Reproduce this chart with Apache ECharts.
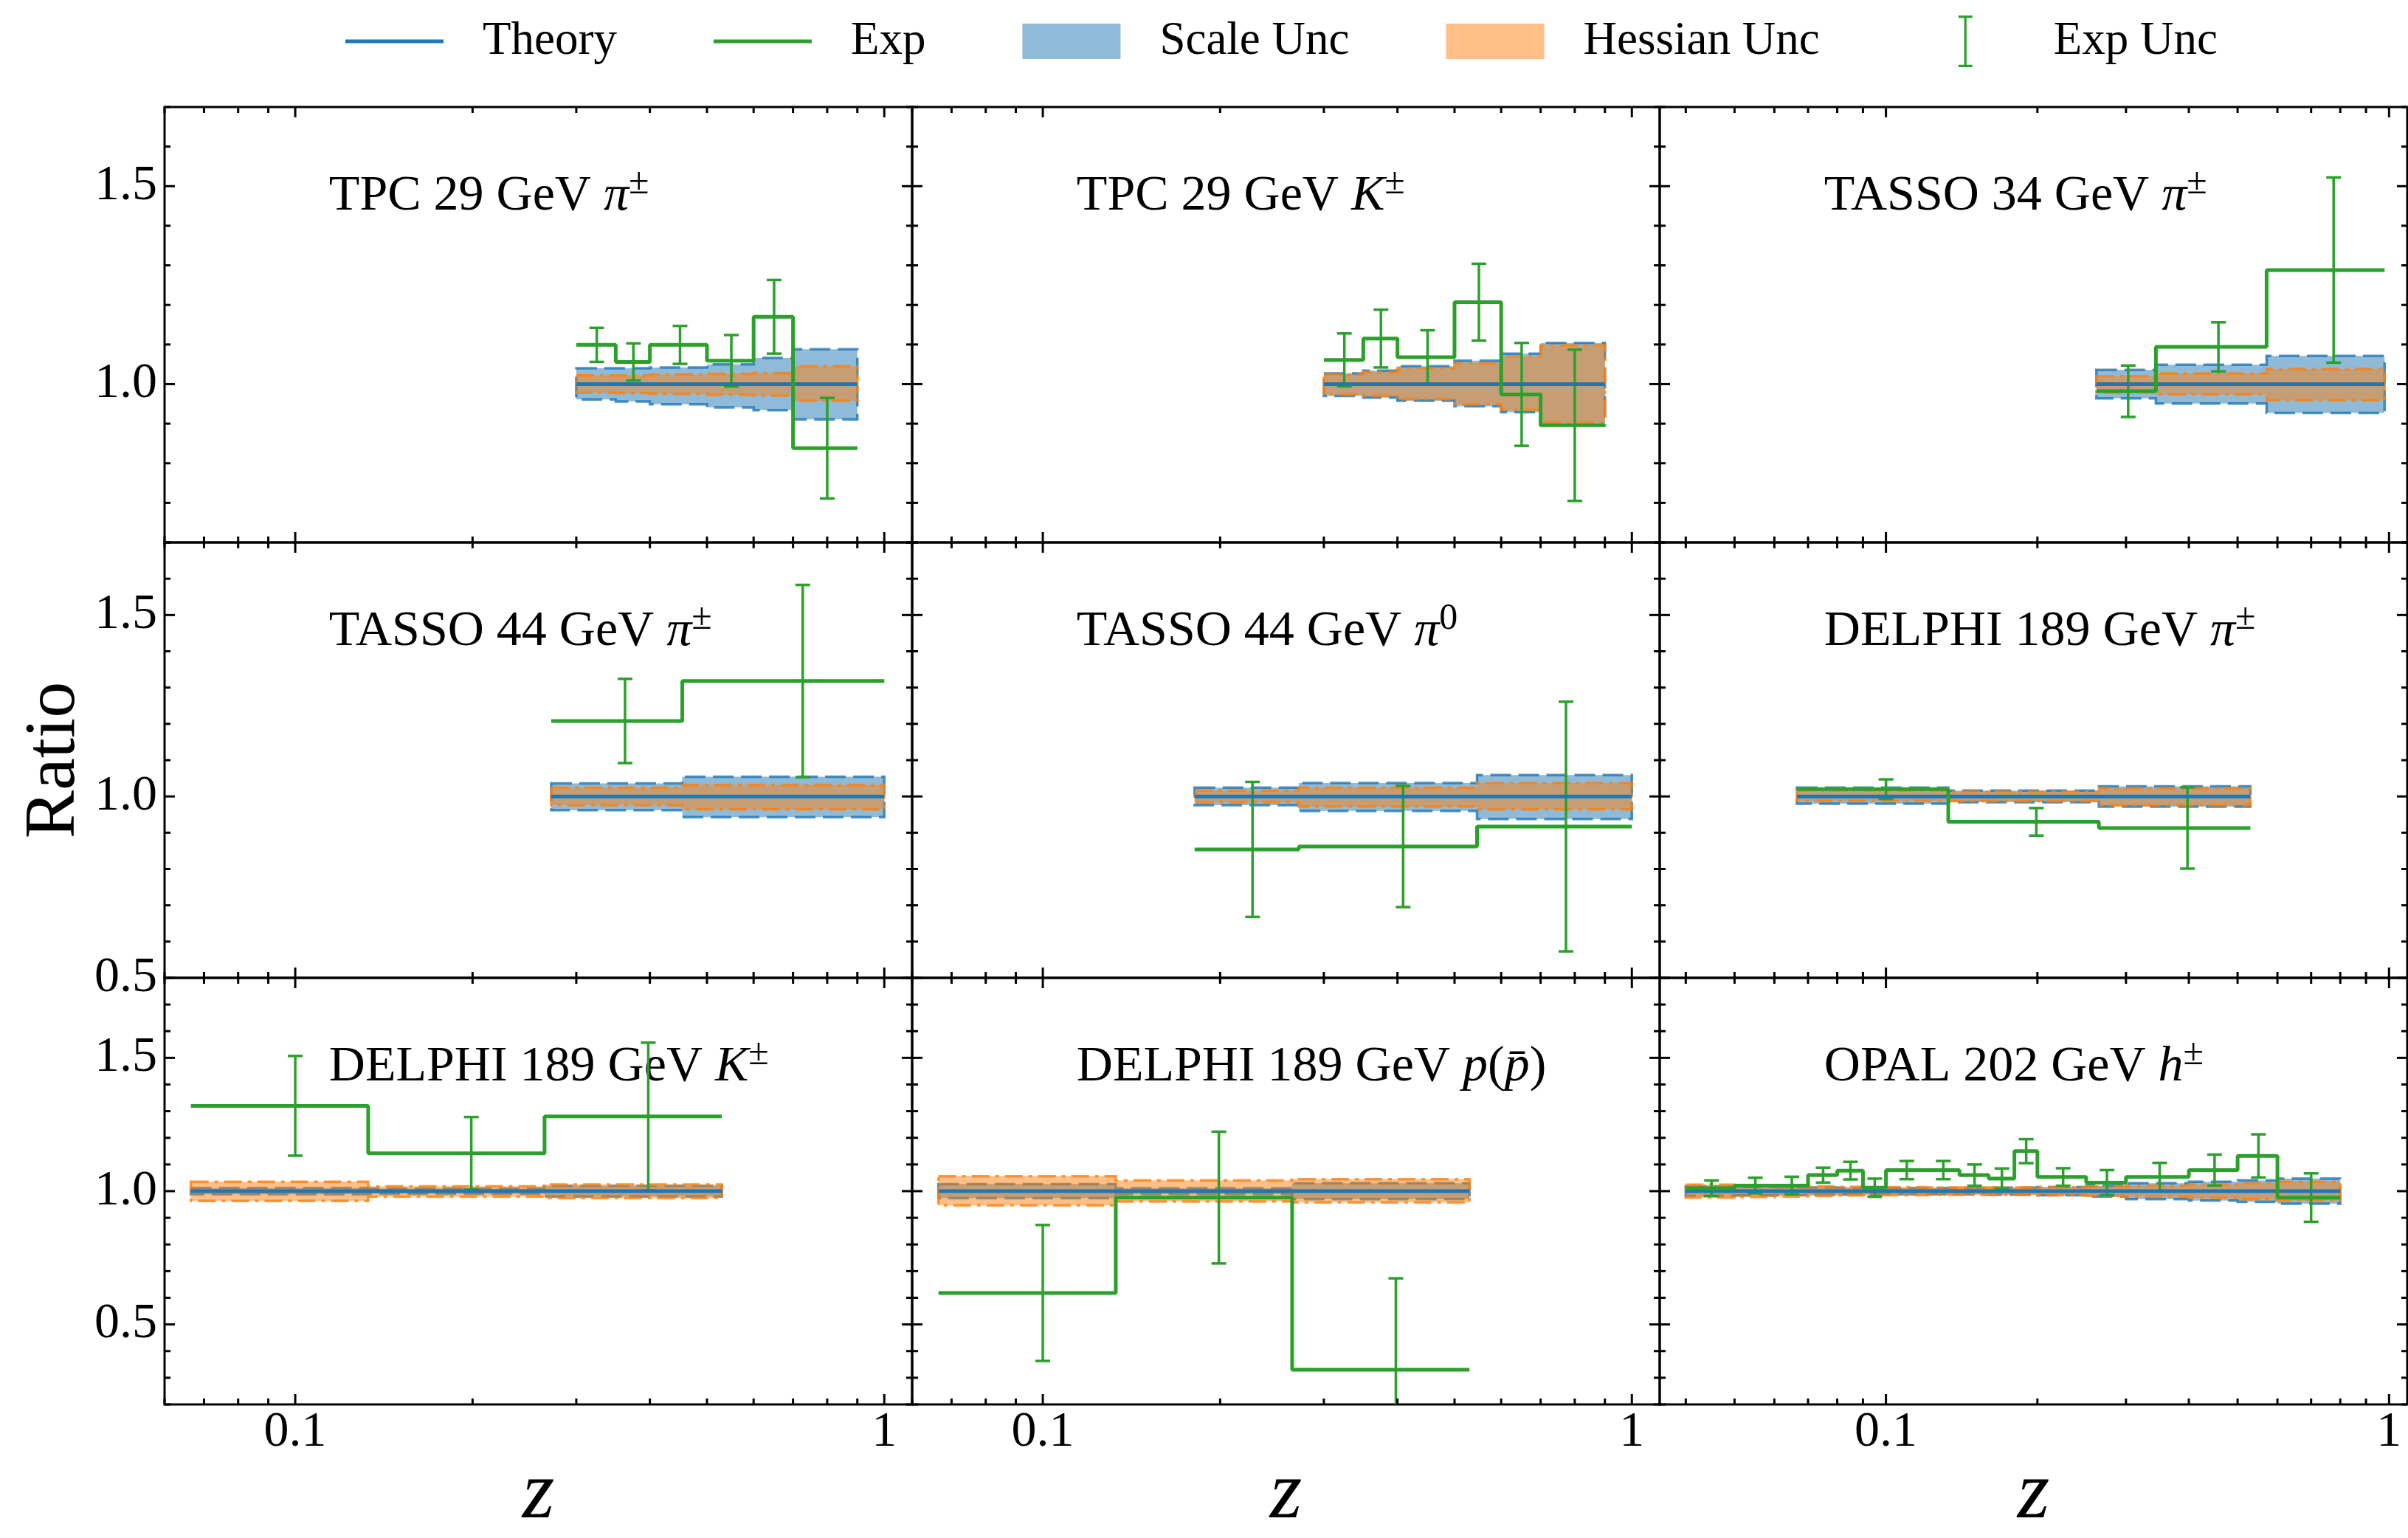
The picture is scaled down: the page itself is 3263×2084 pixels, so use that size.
<!DOCTYPE html>
<html>
<head>
<meta charset="utf-8">
<title>Ratio to theory</title>
<script src="https://cdn.jsdelivr.net/npm/echarts@6.0.0/dist/echarts.min.js"></script>
<style>
  html, body { margin: 0; padding: 0; background: #fff; }
  #chart { width: 3263px; height: 2084px; }
</style>
</head>
<body>
<div id="chart"></div>
<script>
// ---- values (panel order: row by row) ----
const panelTitles = [
  '{r|TPC 29 GeV }{m|π}{s|±}',
  '{r|TPC 29 GeV }{m|K}{s|±}',
  '{r|TASSO 34 GeV }{m|π}{s|±}',
  '{r|TASSO 44 GeV }{m|π}{s|±}',
  '{r|TASSO 44 GeV }{m|π}{s|0}',
  '{r|DELPHI 189 GeV }{m|π}{s|±}',
  '{r|DELPHI 189 GeV }{m|K}{s|±}',
  '{r|DELPHI 189 GeV }{m|p}{r|(}{m|p\u0304}{r|)}',
  '{r|OPAL 202 GeV }{m|h}{s|±}'
];

const binEdges = [
  [0.3, 0.35, 0.4, 0.5, 0.6, 0.7, 0.9],
  [0.3, 0.35, 0.4, 0.5, 0.6, 0.7, 0.9],
  [0.262, 0.344, 0.571, 0.98],
  [0.272, 0.454, 1.0],
  [0.181, 0.272, 0.546, 1.0],
  [0.0665, 0.133, 0.265, 0.53],
  [0.0665, 0.133, 0.265, 0.53],
  [0.0665, 0.133, 0.265, 0.53],
  [0.04, 0.05, 0.06, 0.07, 0.08, 0.09, 0.1, 0.12, 0.14, 0.16, 0.18, 0.2, 0.25, 0.3, 0.4, 0.5, 0.6, 0.8]
];

const expCenters = [
  [0.325, 0.375, 0.45, 0.55, 0.65, 0.8],
  [0.325, 0.375, 0.45, 0.55, 0.65, 0.8],
  [0.303, 0.458, 0.776],
  [0.363, 0.727],
  [0.227, 0.409, 0.773],
  [0.1, 0.199, 0.3975],
  [0.1, 0.199, 0.3975],
  [0.1, 0.199, 0.3975],
  [0.045, 0.055, 0.065, 0.075, 0.085, 0.095, 0.11, 0.13, 0.15, 0.17, 0.19, 0.225, 0.275, 0.35, 0.45, 0.55, 0.7]
];

const expValues = [
  [1.099, 1.056, 1.099, 1.059, 1.170, 0.838],
  [1.061, 1.115, 1.068, 1.207, 0.974, 0.896],
  [0.982, 1.094, 1.288],
  [1.208, 1.318],
  [0.854, 0.862, 0.917],
  [1.020, 0.930, 0.913],
  [1.320, 1.142, 1.280],
  [0.618, 0.976, 0.330],
  [1.011, 1.021, 1.021, 1.060, 1.077, 1.013, 1.079, 1.079, 1.060, 1.047, 1.150, 1.053, 1.032, 1.053, 1.079, 1.132, 0.976]
];

const expErrors = [
  [0.043, 0.047, 0.048, 0.065, 0.093, 0.127],
  [0.067, 0.073, 0.068, 0.097, 0.130, 0.191],
  [0.065, 0.062, 0.234],
  [0.116, 0.265],
  [0.186, 0.167, 0.344],
  [0.027, 0.038, 0.112],
  [0.187, 0.136, 0.277],
  [0.255, 0.247, 0.343],
  [0.029, 0.029, 0.033, 0.028, 0.033, 0.034, 0.034, 0.034, 0.040, 0.038, 0.045, 0.033, 0.047, 0.053, 0.058, 0.081, 0.091]
];

const theoryValues = [
  [1, 1, 1, 1, 1, 1],
  [1, 1, 1, 1, 1, 1],
  [1, 1, 1],
  [1, 1],
  [1, 1, 1],
  [1, 1, 1],
  [1, 1, 1],
  [1, 1, 1],
  [1, 1, 1, 1, 1, 1, 1, 1, 1, 1, 1, 1, 1, 1, 1, 1, 1]
];

const scaleUp = [
  [1.040, 1.040, 1.042, 1.050, 1.066, 1.088],
  [1.027, 1.034, 1.045, 1.059, 1.077, 1.104],
  [1.036, 1.049, 1.071],
  [1.036, 1.054],
  [1.024, 1.037, 1.059],
  [1.024, 1.016, 1.028],
  [1.012, 1.010, 1.020],
  [1.026, 1.011, 1.030],
  [1.018, 1.016, 1.015, 1.014, 1.013, 1.012, 1.012, 1.012, 1.012, 1.013, 1.013, 1.015, 1.020, 1.030, 1.035, 1.040, 1.047]
];
const scaleDown = [
  [0.961, 0.956, 0.949, 0.941, 0.934, 0.911],
  [0.970, 0.966, 0.958, 0.944, 0.929, 0.896],
  [0.964, 0.951, 0.927],
  [0.962, 0.943],
  [0.976, 0.960, 0.938],
  [0.980, 0.984, 0.972],
  [0.988, 0.990, 0.980],
  [0.974, 0.989, 0.970],
  [0.982, 0.984, 0.985, 0.986, 0.987, 0.988, 0.988, 0.988, 0.988, 0.987, 0.987, 0.985, 0.980, 0.970, 0.965, 0.960, 0.953]
];
const hessUp = [
  [1.022, 1.022, 1.024, 1.026, 1.028, 1.045],
  [1.024, 1.030, 1.040, 1.053, 1.070, 1.098],
  [1.020, 1.027, 1.038],
  [1.024, 1.032],
  [1.016, 1.024, 1.037],
  [1.016, 1.013, 1.022],
  [1.035, 1.018, 1.025],
  [1.056, 1.040, 1.045],
  [1.024, 1.022, 1.020, 1.018, 1.016, 1.015, 1.015, 1.014, 1.014, 1.014, 1.014, 1.015, 1.017, 1.020, 1.025, 1.030, 1.035]
];
const hessDown = [
  [0.978, 0.977, 0.975, 0.973, 0.971, 0.958],
  [0.974, 0.970, 0.962, 0.949, 0.935, 0.902],
  [0.979, 0.974, 0.959],
  [0.976, 0.964],
  [0.984, 0.972, 0.964],
  [0.988, 0.987, 0.976],
  [0.963, 0.979, 0.974],
  [0.947, 0.961, 0.958],
  [0.976, 0.978, 0.980, 0.982, 0.984, 0.985, 0.985, 0.986, 0.986, 0.986, 0.986, 0.985, 0.983, 0.980, 0.975, 0.970, 0.965]
];

// axis ranges and ticks
const xRanges = [[0.06, 1.115], [0.06, 1.115], [0.0355, 1.087]];   // per column
const yRanges = [[0.6, 1.7], [0.5, 1.7], [0.2, 1.8]];               // per row
const xMajorTicks = [0.1, 1];
const xMinorTicks = [0.03, 0.04, 0.05, 0.06, 0.07, 0.08, 0.09, 0.2, 0.3, 0.4, 0.5, 0.6, 0.7, 0.8, 0.9];
const yMajorTicks = [0.5, 1.0, 1.5];
const yMinorTicks = [0.2, 0.3, 0.4, 0.6, 0.7, 0.8, 0.9, 1.1, 1.2, 1.3, 1.4, 1.6, 1.7, 1.8];

// ---- layout / style ----
const FONT = 'Liberation Serif';
const C_THEORY = '#1f77b4';
const C_EXP = '#2ca02c';
const gridLefts = [223, 1236, 2249];
const gridTops = [145, 735, 1325];
const gridW = 1013, gridH = 590;

const LINE_ICON = 'path://M0,0h0.2v0.2h-0.2zM0,32.6h133v4.8h-133zM132.8,69.8h0.2v0.2h-0.2z';
const PATCH_ICON = 'path://M0,0h0.2v0.2h-0.2zM0,11h133v48h-133zM132.8,69.8h0.2v0.2h-0.2z';
const ERR_ICON = 'path://M0,34.9h0.2v0.2h-0.2zM57,0h19v3.2h-19zM64.9,3h3.2v64h-3.2zM57,66.8h19v3.2h-19zM132.8,34.9h0.2v0.2h-0.2z';

function stepPoints(edges, vals) {
  const pts = vals.map((v, i) => [edges[i], v]);
  pts.push([edges[edges.length - 1], vals[vals.length - 1]]);
  return pts;
}

function bandSeries(p, up, dn, name, fill, stroke, dash) {
  const edges = binEdges[p];
  return {
    type: 'custom', name: name, xAxisIndex: p, yAxisIndex: p, clip: true, silent: true,
    itemStyle: { color: fill },
    data: [[edges[0], 1]],
    renderItem: function (params, api) {
      const pts = [];
      for (let i = 0; i < up[p].length; i++) {
        pts.push(api.coord([edges[i], up[p][i]]));
        pts.push(api.coord([edges[i + 1], up[p][i]]));
      }
      for (let i = dn[p].length - 1; i >= 0; i--) {
        pts.push(api.coord([edges[i + 1], dn[p][i]]));
        pts.push(api.coord([edges[i], dn[p][i]]));
      }
      return {
        type: 'polygon', shape: { points: pts },
        style: { fill: fill, stroke: stroke, lineWidth: 3.5, lineDash: dash }
      };
    }
  };
}

function errorSeries(p) {
  return {
    type: 'custom', name: 'Exp Unc', xAxisIndex: p, yAxisIndex: p, clip: true, silent: true,
    itemStyle: { color: C_EXP },
    data: expCenters[p].map((x, i) => [x, expValues[p][i], expErrors[p][i]]),
    renderItem: function (params, api) {
      const x = api.value(0), y = api.value(1), e = api.value(2);
      const t = api.coord([x, y + e]);
      const b = api.coord([x, y - e]);
      const st = { stroke: C_EXP, lineWidth: 3.5 };
      return {
        type: 'group', children: [
          { type: 'line', shape: { x1: t[0], y1: t[1], x2: b[0], y2: b[1] }, style: st },
          { type: 'line', shape: { x1: t[0] - 10, y1: t[1], x2: t[0] + 10, y2: t[1] }, style: st },
          { type: 'line', shape: { x1: b[0] - 10, y1: b[1], x2: b[0] + 10, y2: b[1] }, style: st }
        ]
      };
    }
  };
}

// ticks drawn inward on all four sides, labels only on outer panels
function tickSeries(p) {
  const r = Math.floor(p / 3), c = p % 3;
  const xr = xRanges[c], yr = yRanges[r];
  const eps = 1e-9;
  const items = [];
  xMajorTicks.forEach(v => { if (v >= xr[0] - eps && v <= xr[1] + eps) items.push([v, yr[0], 0]); });
  xMinorTicks.forEach(v => { if (v >= xr[0] - eps && v <= xr[1] + eps) items.push([v, yr[0], 1]); });
  yMajorTicks.forEach(v => { if (v >= yr[0] - eps && v <= yr[1] + eps) items.push([xr[0], v, 2]); });
  yMinorTicks.forEach(v => { if (v >= yr[0] - eps && v <= yr[1] + eps) items.push([xr[0], v, 3]); });
  return {
    type: 'custom', xAxisIndex: p, yAxisIndex: p, silent: true, z: 10, clip: false,
    data: items,
    renderItem: function (params, api) {
      const cs = params.coordSys;
      const kind = api.value(2);
      const pt = api.coord([api.value(0), api.value(1)]);
      const st = { stroke: '#000', lineWidth: 3 };
      const kids = [];
      if (kind < 2) {
        const x = pt[0], len = kind === 0 ? 14 : 8;
        const b = cs.y + cs.height, t = cs.y;
        kids.push({ type: 'line', shape: { x1: x, y1: b, x2: x, y2: b - len }, style: st });
        kids.push({ type: 'line', shape: { x1: x, y1: t, x2: x, y2: t + len }, style: st });
        if (kind === 0 && r === 2) {
          const v = api.value(0);
          kids.push({ type: 'text', x: x, y: b + 4, style: {
            text: v === 1 ? '1' : String(v), fill: '#000', fontFamily: FONT, fontSize: 68,
            align: 'center', verticalAlign: 'top' } });
        }
      } else {
        const y = pt[1], len = kind === 2 ? 14 : 8;
        const l = cs.x, rr = cs.x + cs.width;
        kids.push({ type: 'line', shape: { x1: l, y1: y, x2: l + len, y2: y }, style: st });
        kids.push({ type: 'line', shape: { x1: rr, y1: y, x2: rr - len, y2: y }, style: st });
        if (kind === 2 && c === 0) {
          kids.push({ type: 'text', x: l - 10, y: y, style: {
            text: api.value(1).toFixed(1), fill: '#000', fontFamily: FONT, fontSize: 68,
            align: 'right', verticalAlign: 'middle' } });
        }
      }
      return { type: 'group', children: kids };
    }
  };
}

const grids = [], xAxes = [], yAxes = [], series = [], graphics = [];
const titleRich = {
  r: { fontFamily: FONT, fontSize: 68, lineHeight: 84, color: '#000' },
  m: { fontFamily: FONT, fontSize: 68, lineHeight: 84, fontStyle: 'italic', color: '#000' },
  s: { fontFamily: FONT, fontSize: 50, lineHeight: 60, verticalAlign: 'top', color: '#000' }
};

for (let p = 0; p < 9; p++) {
  const r = Math.floor(p / 3), c = p % 3;
  grids.push({
    left: gridLefts[c], top: gridTops[r], width: gridW, height: gridH,
    show: true, borderColor: '#000', borderWidth: 3, backgroundColor: 'transparent'
  });
  xAxes.push({
    type: 'log', logBase: 10, gridIndex: p, min: xRanges[c][0], max: xRanges[c][1],
    axisLine: { show: false }, axisTick: { show: false }, axisLabel: { show: false }, splitLine: { show: false },
    name: r === 2 ? 'z' : '', nameLocation: 'middle', nameGap: 68,
    nameTextStyle: { fontFamily: FONT, fontSize: 112, fontStyle: 'italic', color: '#000' }
  });
  yAxes.push({
    type: 'value', gridIndex: p, min: yRanges[r][0], max: yRanges[r][1],
    axisLine: { show: false }, axisTick: { show: false }, axisLabel: { show: false }, splitLine: { show: false },
    name: p === 3 ? 'Ratio' : '', nameLocation: 'middle', nameGap: 100,
    nameTextStyle: { fontFamily: FONT, fontSize: 98, color: '#000' }
  });

  series.push(bandSeries(p, scaleUp, scaleDown, 'Scale Unc',
    'rgba(31,119,180,0.5)', 'rgba(31,119,180,0.8)', [28, 10]));
  series.push(bandSeries(p, hessUp, hessDown, 'Hessian Unc',
    'rgba(255,127,14,0.5)', 'rgba(255,127,14,0.8)', [24, 8, 5, 8]));
  series.push({
    type: 'line', name: 'Theory', xAxisIndex: p, yAxisIndex: p, step: 'end',
    symbol: 'none', silent: true, clip: true,
    lineStyle: { color: C_THEORY, width: 5 }, itemStyle: { color: C_THEORY },
    data: stepPoints(binEdges[p], theoryValues[p])
  });
  series.push({
    type: 'line', name: 'Exp', xAxisIndex: p, yAxisIndex: p, step: 'end',
    symbol: 'none', silent: true, clip: true,
    lineStyle: { color: C_EXP, width: 5 }, itemStyle: { color: C_EXP },
    data: stepPoints(binEdges[p], expValues[p])
  });
  series.push(errorSeries(p));
  series.push(tickSeries(p));

  graphics.push({
    type: 'text', x: gridLefts[c] + 0.22 * gridW, y: gridTops[r] + 121, silent: true,
    style: { text: panelTitles[p], rich: titleRich, align: 'left', verticalAlign: 'middle' }
  });
}

const chart = echarts.init(document.getElementById('chart'), null, { renderer: 'canvas' });
chart.setOption({
  animation: false,
  backgroundColor: '#fff',
  grid: grids,
  xAxis: xAxes,
  yAxis: yAxes,
  legend: {
    left: 468, top: 21, padding: 0, itemWidth: 133, itemHeight: 70, itemGap: 131,
    selectedMode: false,
    textStyle: { fontFamily: FONT, fontSize: 63, color: '#000', padding: [0, 0, 0, 48] },
    itemStyle: { borderWidth: 0 },
    data: [
      { name: 'Theory', icon: LINE_ICON, itemStyle: { color: C_THEORY } },
      { name: 'Exp', icon: LINE_ICON, itemStyle: { color: C_EXP } },
      { name: 'Scale Unc', icon: PATCH_ICON, itemStyle: { color: 'rgba(31,119,180,0.5)' } },
      { name: 'Hessian Unc', icon: PATCH_ICON, itemStyle: { color: 'rgba(255,127,14,0.5)' } },
      { name: 'Exp Unc', icon: ERR_ICON, itemStyle: { color: C_EXP } }
    ]
  },
  graphic: graphics,
  series: series
});
</script>
</body>
</html>
